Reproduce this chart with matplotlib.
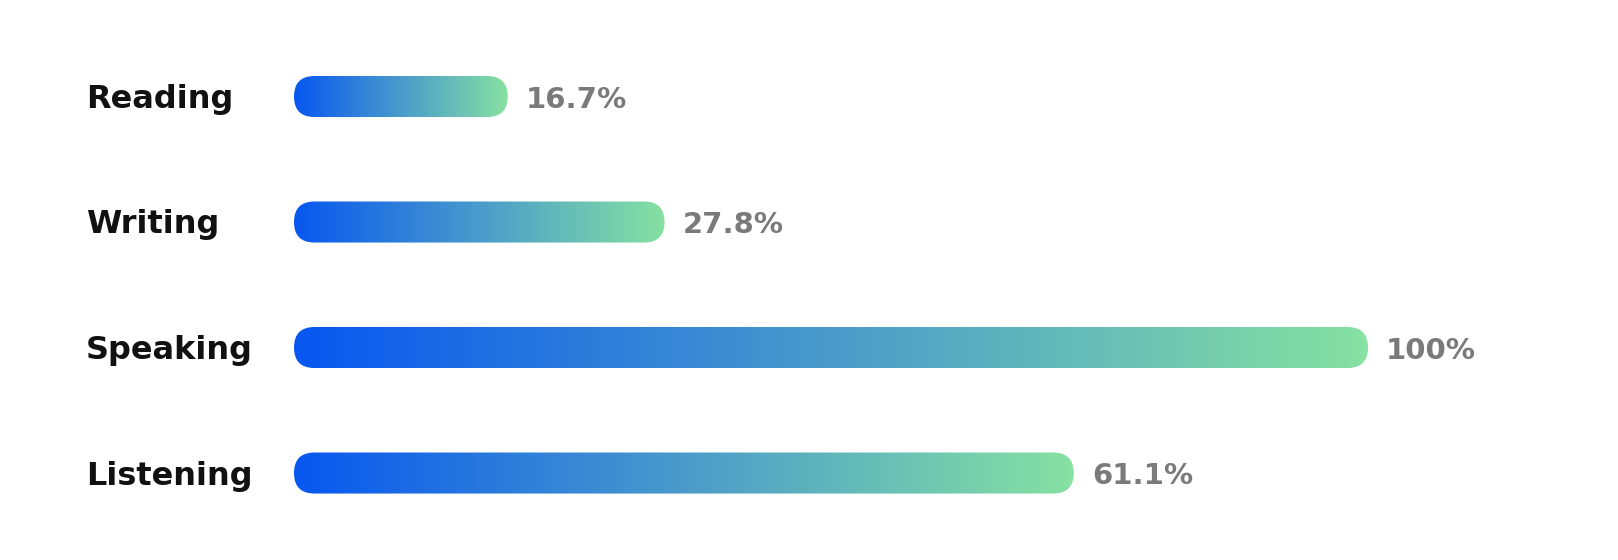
import numpy as np
import matplotlib
matplotlib.use("Agg")
import matplotlib.pyplot as plt
from matplotlib.patches import FancyBboxPatch
from matplotlib.colors import LinearSegmentedColormap
from matplotlib.transforms import IdentityTransform

# data
skills = ["Reading", "Writing", "Speaking", "Listening"]
bar_lengths = [19.9, 34.5, 100.0, 72.6]   # visible bar length, % of full track
value_labels = ["16.7%", "27.8%", "100%", "61.1%"]

W, H = 1618, 560
fig = plt.figure(figsize=(W / 100, H / 100), dpi=100)
fig.patch.set_facecolor("white")

# axes: x 0..100 spans the bar track, y = category index
ax = fig.add_axes([294 / W, 0, 1074 / W, 1])
ax.set_xlim(0, 100)
ax.set_ylim(3.693, -0.769)
ax.axis("off")

cmap = LinearSegmentedColormap.from_list("bar", ["#0857F0", "#4A9BCB", "#86E1A2"])
grad = np.linspace(0, 1, 256).reshape(1, -1)

bar_h = 0.327

for i, (name, length, lab) in enumerate(zip(skills, bar_lengths, value_labels)):
    # pill shape built in pixel space so the caps stay round
    (x0, y0), (x1, y1) = ax.transData.transform([(0, i + bar_h / 2), (length, i - bar_h / 2)])
    r = (y1 - y0) / 2
    patch = FancyBboxPatch((x0, y0), x1 - x0, y1 - y0,
                           boxstyle=f"round,pad=0,rounding_size={r}",
                           transform=IdentityTransform(),
                           facecolor="none", edgecolor="none")
    ax.add_patch(patch)
    im = ax.imshow(grad, cmap=cmap, aspect="auto", interpolation="bilinear",
                   extent=[0, length, i + bar_h / 2, i - bar_h / 2], zorder=2)
    im.set_clip_path(patch)

    ax.annotate(lab, (length, i), xytext=(13, 0), textcoords="offset points",
                ha="left", va="center_baseline", fontsize=21, fontweight="bold",
                color="#7a7a7a", family="DejaVu Sans")
    fig.text(86 / W, 1 - (96 + i * 125.5) / H, name, ha="left", va="center_baseline",
             fontsize=23, fontweight="bold", color="#111111", family="DejaVu Sans")

fig.savefig("out.png", dpi=100, facecolor="white")
